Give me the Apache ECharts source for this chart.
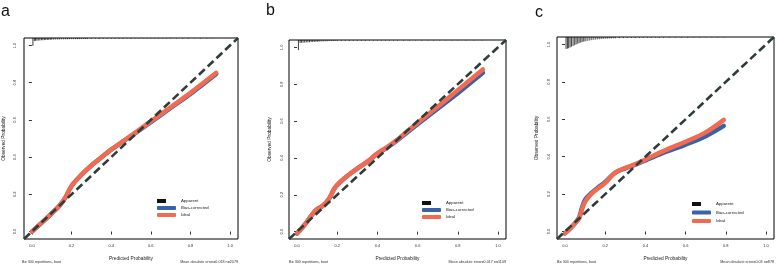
<!DOCTYPE html>
<html><head><meta charset="utf-8">
<script src="https://cdn.jsdelivr.net/npm/echarts@6/dist/echarts.min.js"></script>
<style>html,body{margin:0;padding:0;background:#fff}#c{width:784px;height:266px}</style>
</head><body><div id="c"></div>
<script>
const tickValues = [0, 0.2, 0.4, 0.6, 0.8, 1.0];
const panelLetters = ['a', 'b', 'c'];
const footLeft = ['B= 300 repetitions, boot', 'B= 300 repetitions, boot', 'B= 300 repetitions, boot'];
const footRight = ['Mean absolute error=0.018 n=2079', 'Mean absolute error=0.017 n=1109', 'Mean absolute error=0.03 n=878'];
const xName = 'Predicted Probability';
const yName = 'Observed Probability';
const legendNames = ['Apparent', 'Bias-corrected', 'Ideal'];
const apparentLine = [[-0.04, -0.04], [1.04, 1.04]];

const aIdeal = [[0.0,0.0],[0.05,0.048],[0.1,0.098],[0.14,0.14],[0.17,0.185],[0.2,0.245],[0.25,0.305],[0.3,0.355],[0.35,0.398],[0.4,0.44],[0.45,0.478],[0.5,0.515],[0.55,0.553],[0.6,0.592],[0.7,0.668],[0.8,0.745],[0.93,0.853]];
const aBias  = [[0.0,0.0],[0.05,0.048],[0.1,0.098],[0.14,0.14],[0.17,0.185],[0.2,0.245],[0.25,0.305],[0.3,0.355],[0.35,0.398],[0.4,0.44],[0.45,0.477],[0.5,0.513],[0.55,0.55],[0.6,0.588],[0.7,0.664],[0.8,0.74],[0.93,0.847]];

const bIdeal = [[0.0,-0.01],[0.04,0.04],[0.07,0.085],[0.095,0.118],[0.13,0.142],[0.16,0.18],[0.19,0.24],[0.24,0.293],[0.3,0.343],[0.35,0.38],[0.4,0.425],[0.45,0.46],[0.5,0.5],[0.55,0.546],[0.6,0.59],[0.7,0.678],[0.8,0.768],[0.925,0.88]];
const bBias  = [[0.0,-0.01],[0.04,0.04],[0.07,0.085],[0.095,0.118],[0.13,0.142],[0.16,0.18],[0.19,0.24],[0.24,0.293],[0.3,0.342],[0.35,0.379],[0.4,0.423],[0.45,0.457],[0.5,0.496],[0.55,0.54],[0.6,0.583],[0.7,0.667],[0.8,0.751],[0.925,0.862]];

const cIdeal = [[0.0,-0.01],[0.03,0.02],[0.05,0.045],[0.07,0.07],[0.085,0.12],[0.1,0.16],[0.13,0.2],[0.17,0.235],[0.2,0.26],[0.25,0.315],[0.3,0.34],[0.35,0.36],[0.4,0.385],[0.5,0.435],[0.6,0.48],[0.7,0.53],[0.79,0.597]];
const cBias  = [[0.0,-0.01],[0.03,0.02],[0.05,0.045],[0.07,0.075],[0.085,0.13],[0.1,0.17],[0.13,0.205],[0.17,0.24],[0.2,0.265],[0.25,0.315],[0.3,0.338],[0.35,0.358],[0.4,0.38],[0.5,0.425],[0.6,0.465],[0.7,0.51],[0.79,0.565]];

const aSpikes = [[0.005,0.042],[0.012,0.016],[0.018,0.015],[0.025,0.014],[0.032,0.014],[0.04,0.013],[0.048,0.012],[0.055,0.012],[0.063,0.011],[0.07,0.011],[0.078,0.010],[0.085,0.010],[0.093,0.009],[0.1,0.009],[0.11,0.009],[0.12,0.008],[0.13,0.008],[0.14,0.008],[0.15,0.007],[0.16,0.007],[0.17,0.007],[0.18,0.007],[0.19,0.006],[0.2,0.006],[0.21,0.006],[0.22,0.006],[0.23,0.006],[0.24,0.005],[0.25,0.005],[0.26,0.005],[0.27,0.005],[0.28,0.005],[0.3,0.005],[0.32,0.004],[0.34,0.005],[0.36,0.004],[0.38,0.004],[0.4,0.004],[0.42,0.004],[0.44,0.004],[0.46,0.004],[0.48,0.003],[0.5,0.004],[0.52,0.003],[0.54,0.003],[0.56,0.003],[0.58,0.003],[0.6,0.003],[0.62,0.003],[0.64,0.003],[0.66,0.003],[0.68,0.003],[0.7,0.003],[0.73,0.003],[0.76,0.003],[0.79,0.003],[0.82,0.002],[0.85,0.003],[0.88,0.002],[0.91,0.002]];
const bSpikes = [[0.007,0.055],[0.015,0.016],[0.022,0.015],[0.03,0.015],[0.038,0.014],[0.046,0.013],[0.054,0.013],[0.062,0.012],[0.07,0.011],[0.078,0.011],[0.086,0.010],[0.094,0.010],[0.102,0.009],[0.11,0.009],[0.12,0.008],[0.13,0.008],[0.14,0.007],[0.15,0.007],[0.16,0.006],[0.17,0.006],[0.18,0.006],[0.19,0.005],[0.2,0.005],[0.22,0.005],[0.24,0.004],[0.26,0.005],[0.28,0.004],[0.3,0.004],[0.32,0.004],[0.34,0.004],[0.36,0.003],[0.38,0.004],[0.4,0.003],[0.42,0.003],[0.44,0.003],[0.46,0.003],[0.48,0.003],[0.5,0.003],[0.53,0.003],[0.56,0.003],[0.59,0.002],[0.62,0.003],[0.65,0.002],[0.68,0.003],[0.71,0.002],[0.74,0.002],[0.77,0.002],[0.8,0.002],[0.84,0.002],[0.88,0.002],[0.92,0.002]];
const cSpikes = [[0.005,0.064],[0.012,0.062],[0.018,0.06],[0.025,0.056],[0.032,0.052],[0.04,0.048],[0.048,0.044],[0.055,0.04],[0.063,0.036],[0.07,0.033],[0.078,0.03],[0.085,0.027],[0.093,0.025],[0.1,0.023],[0.11,0.021],[0.12,0.019],[0.13,0.017],[0.14,0.015],[0.15,0.014],[0.16,0.013],[0.17,0.012],[0.18,0.011],[0.19,0.010],[0.2,0.009],[0.21,0.009],[0.22,0.008],[0.23,0.008],[0.24,0.007],[0.25,0.007],[0.27,0.006],[0.29,0.006],[0.31,0.005],[0.33,0.005],[0.35,0.005],[0.37,0.004],[0.39,0.004],[0.41,0.004],[0.43,0.004],[0.45,0.003],[0.47,0.004],[0.49,0.003],[0.52,0.003],[0.55,0.003],[0.58,0.003],[0.61,0.003],[0.64,0.002],[0.67,0.003],[0.7,0.002],[0.73,0.002],[0.76,0.002],[0.79,0.002]];

const idealSets = [aIdeal, bIdeal, cIdeal];
const biasSets = [aBias, bBias, cBias];
const spikeSets = [aSpikes, bSpikes, cSpikes];

const FONT = "'Liberation Sans', Arial, sans-serif";
const AX_MIN = -0.04, AX_MAX = 1.04;
const grids = [
  {left: 22, top: 38, width: 216, height: 202},
  {left: 289, top: 40, width: 217, height: 201},
  {left: 557, top: 37, width: 217, height: 203}
];
const legendPos = [{left: 157, top: 199, gap: 3}, {left: 422, top: 201, gap: 3}, {left: 692, top: 202, gap: 4.5}];
const letterPos = [[1, 4], [266, 3], [535, 5]];
const yNameGap = [18, 17, 18];
const yLabelMargin = [7, 5, 6];

const COL_RED = '#f26a50', COL_BLUE = '#3a62a8', COL_DASH = '#2f3d3a';

const option = {
  animation: false,
  backgroundColor: '#fff',
  grid: grids.map(g => Object.assign({show: true, borderColor: '#000', borderWidth: 1, backgroundColor: 'transparent'}, g)),
  xAxis: grids.map((g, i) => ({
    gridIndex: i, type: 'value', min: AX_MIN, max: AX_MAX,
    axisLine: {show: false}, splitLine: {show: false},
    axisTick: {show: true, customValues: tickValues, length: 3, lineStyle: {color: '#000', width: 0.8}},
    axisLabel: {customValues: tickValues, formatter: v => v.toFixed(1), fontSize: 4, color: '#333', margin: 5, fontFamily: FONT},
    name: xName, nameLocation: 'middle', nameGap: 17,
    nameTextStyle: {fontSize: 4.8, color: '#222', fontFamily: FONT}
  })),
  yAxis: grids.map((g, i) => ({
    gridIndex: i, type: 'value', min: AX_MIN, max: AX_MAX,
    axisLine: {show: false}, splitLine: {show: false},
    axisTick: {show: true, customValues: tickValues, length: 3, lineStyle: {color: '#000', width: 0.8}},
    axisLabel: {customValues: tickValues, formatter: v => v.toFixed(1), fontSize: 4, color: '#333', margin: yLabelMargin[i], rotate: 90, fontFamily: FONT},
    name: yName, nameLocation: 'middle', nameGap: yNameGap[i],
    nameTextStyle: {fontSize: 4.8, color: '#222', fontFamily: FONT}
  })),
  legend: grids.map((g, i) => ({
    left: legendPos[i].left, top: legendPos[i].top, orient: 'vertical',
    itemWidth: 19, itemHeight: 4, itemGap: legendPos[i].gap, icon: 'roundRect', selectedMode: false,
    padding: 0, itemStyle: {borderWidth: 0},
    textStyle: {fontSize: 4.3, color: '#222', fontFamily: FONT},
    data: [
      {name: legendNames[0], icon: 'path://M0,0L9,0L9,4L0,4ZM19,0L19,4', itemStyle: {color: '#111', borderWidth: 0}},
      legendNames[1], legendNames[2]
    ]
  })),
  series: [],
  graphic: []
};

grids.forEach((g, i) => {
  option.series.push({
    type: 'line', name: legendNames[1], xAxisIndex: i, yAxisIndex: i, data: biasSets[i],
    showSymbol: false, smooth: 0.35, z: 2, itemStyle: {color: COL_BLUE},
    lineStyle: {color: COL_BLUE, width: 4.5, cap: 'round', join: 'round'}
  });
  option.series.push({
    type: 'line', name: legendNames[2], xAxisIndex: i, yAxisIndex: i, data: idealSets[i],
    showSymbol: false, smooth: 0.35, z: 3, itemStyle: {color: COL_RED},
    lineStyle: {color: COL_RED, width: 4.5, cap: 'round', join: 'round'}
  });
  option.series.push({
    type: 'line', name: legendNames[0], xAxisIndex: i, yAxisIndex: i, data: apparentLine,
    showSymbol: false, z: 4, itemStyle: {color: COL_DASH},
    lineStyle: {color: COL_DASH, width: 2.6, type: [8, 4]}
  });
  option.series.push({
    type: 'custom', xAxisIndex: i, yAxisIndex: i, data: spikeSets[i], silent: true, z: 5,
    renderItem: (params, api) => {
      const x = api.value(0), l = api.value(1);
      const p1 = api.coord([x, AX_MAX]);
      const p2 = api.coord([x, AX_MAX - l]);
      return {type: 'line', shape: {x1: p1[0], y1: p1[1], x2: p2[0], y2: p2[1]}, style: {stroke: '#111', lineWidth: 0.8}};
    }
  });
  option.graphic.push({type: 'text', left: letterPos[i][0], top: letterPos[i][1],
    style: {text: panelLetters[i], fontSize: 16, fontFamily: FONT, fill: '#111'}});
  option.graphic.push({type: 'text', x: g.left, y: 262,
    style: {text: footLeft[i], fontSize: 3.7, fontFamily: FONT, fill: '#333', textAlign: 'left', textVerticalAlign: 'middle'}});
  option.graphic.push({type: 'text', x: g.left + g.width, y: 262,
    style: {text: footRight[i], fontSize: 3.7, fontFamily: FONT, fill: '#333', textAlign: 'right', textVerticalAlign: 'middle'}});
});

const chart = echarts.init(document.getElementById('c'), null, {renderer: 'canvas'});
chart.setOption(option);
</script>
</body></html>
